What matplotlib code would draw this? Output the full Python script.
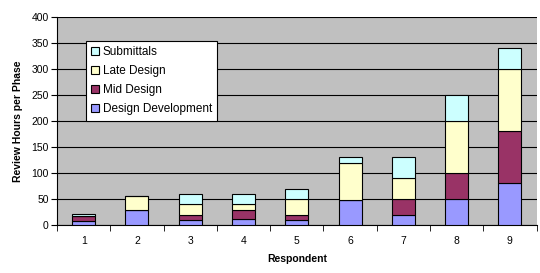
import matplotlib.pyplot as plt
import numpy as np

plt.rcParams['font.family'] = ['Liberation Sans', 'DejaVu Sans']

respondents = ['1', '2', '3', '4', '5', '6', '7', '8', '9']
design_dev = [8, 28, 10, 12, 10, 48, 20, 50, 80]
mid_design = [10, 0, 10, 16, 10, 0, 30, 50, 100]
late_design = [0, 27, 20, 12, 30, 72, 40, 100, 120]
submittals = [3, 0, 20, 20, 20, 10, 40, 50, 40]

series = [
    ("Design Development", design_dev, '#9999FF'),
    ("Mid Design", mid_design, '#993366'),
    ("Late Design", late_design, '#FFFFCC'),
    ("Submittals", submittals, '#CCFFFF'),
]

fig = plt.figure(figsize=(5.4, 2.73), dpi=100)
ax = fig.add_axes([0.1056, 0.176, 0.888, 0.762])
ax.set_facecolor('#C0C0C0')

x = np.arange(1, len(respondents) + 1)
bottom = np.zeros(len(x))
handles = []
for name, vals, col in series:
    b = ax.bar(x, vals, 0.43, bottom=bottom, color=col, edgecolor='black',
               linewidth=0.8, label=name, zorder=3)
    handles.append(b)
    bottom += np.array(vals)

ax.set_xlim(0.5, 9.5)
ax.set_ylim(0, 400)
ax.set_yticks(range(0, 401, 50))
ax.yaxis.grid(True, color='black', linewidth=0.8, zorder=1)
ax.set_axisbelow(True)

ax.set_xticks(x)
ax.set_xticklabels(respondents)
ax.set_xticks(np.arange(0.5, 9.6, 1), minor=True)
ax.tick_params(axis='x', which='major', length=0, pad=8, labelsize=7.5)
ax.tick_params(axis='x', which='minor', length=4, direction='out')
ax.tick_params(axis='y', length=4, direction='out', labelsize=7.5, pad=2)

for s in ['top', 'right']:
    ax.spines[s].set_visible(False)
ax.spines['left'].set_linewidth(0.8)
ax.spines['bottom'].set_linewidth(0.8)

ax.set_xlabel("Respondent", fontsize=7.5, fontweight='bold', labelpad=6)
ax.set_ylabel("Review Hours per Phase", fontsize=7.5, fontweight='bold', labelpad=6)

leg = ax.legend(handles[::-1], [h.get_label() for h in handles[::-1]],
                loc='upper left', bbox_to_anchor=(0.06, 0.885), fontsize=8.5,
                frameon=True, fancybox=False, edgecolor='black',
                handlelength=0.7, handleheight=0.7, handletextpad=0.3,
                labelspacing=0.6, borderpad=0.45, borderaxespad=0)
leg.get_frame().set_linewidth(0.8)
leg.get_frame().set_facecolor('white')
leg.get_frame().set_alpha(1)

fig.savefig('out.png', dpi=100)
